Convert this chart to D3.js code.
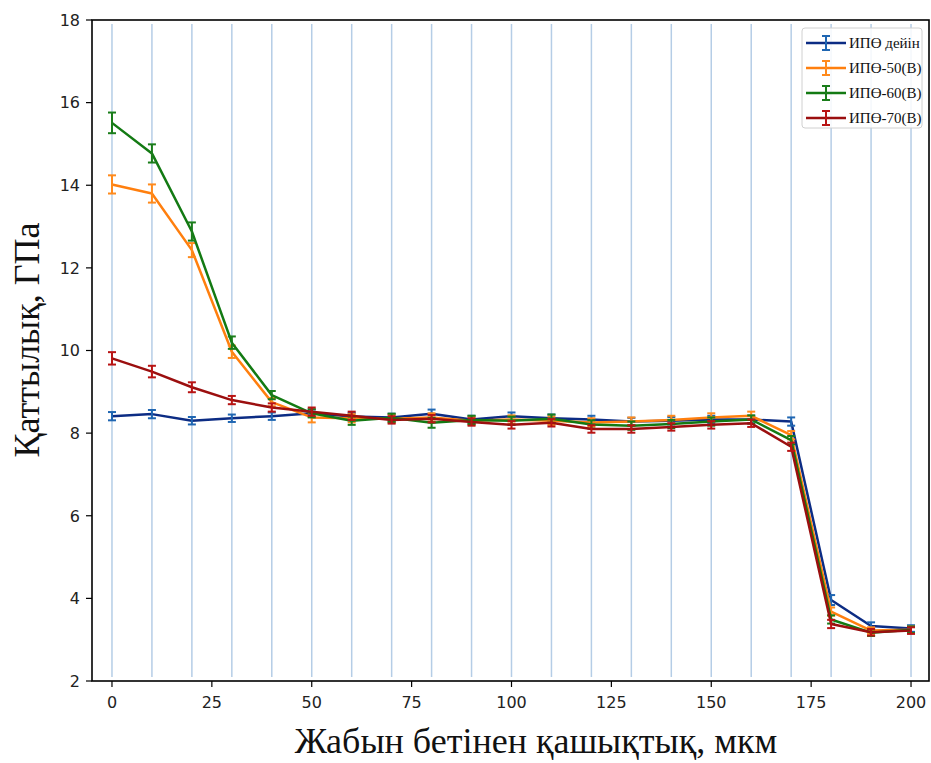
<!DOCTYPE html>
<html>
<head>
<meta charset="utf-8">
<script src="https://cdn.jsdelivr.net/npm/d3@7"></script>
<style>
  body { margin: 0; background: #fff; }
  .tick-label { font-family: "DejaVu Sans", sans-serif; font-size: 16px; fill: #222; }
  .axis-title { font-family: "Liberation Serif", "DejaVu Serif", serif; font-size: 36px; fill: #111; }
  .legend-label { font-family: "Liberation Serif", serif; font-size: 15px; fill: #111; }
</style>
</head>
<body>
<div id="chart"></div>
<script>
// distance from coating surface, mkm
const depths = [0, 10, 20, 30, 40, 50, 60, 70, 80, 90, 100, 110, 120, 130, 140, 150, 160, 170, 180, 190, 200];

const seriesNames = ['ИПӨ дейін', 'ИПӨ-50(В)', 'ИПӨ-60(В)', 'ИПӨ-70(В)'];

const hardBefore = [8.41, 8.46, 8.30, 8.36, 8.41, 8.48, 8.40, 8.38, 8.47, 8.33, 8.41, 8.36, 8.33, 8.28, 8.30, 8.33, 8.33, 8.28, 3.96, 3.33, 3.27];
const hard50 = [14.02, 13.80, 12.43, 9.97, 8.75, 8.38, 8.36, 8.35, 8.38, 8.30, 8.33, 8.30, 8.26, 8.28, 8.32, 8.38, 8.42, 7.95, 3.68, 3.22, 3.24];
const hard60 = [15.51, 14.77, 12.88, 10.19, 8.92, 8.48, 8.30, 8.37, 8.25, 8.32, 8.30, 8.35, 8.21, 8.18, 8.22, 8.28, 8.33, 7.83, 3.49, 3.17, 3.24];
const hard70 = [9.81, 9.49, 9.11, 8.80, 8.62, 8.52, 8.42, 8.32, 8.35, 8.27, 8.20, 8.25, 8.10, 8.10, 8.15, 8.20, 8.24, 7.67, 3.38, 3.18, 3.22];

const errBefore = [0.10, 0.10, 0.09, 0.09, 0.09, 0.09, 0.09, 0.09, 0.10, 0.09, 0.09, 0.09, 0.09, 0.09, 0.09, 0.09, 0.09, 0.10, 0.12, 0.09, 0.08];
const err50 = [0.22, 0.22, 0.17, 0.15, 0.10, 0.12, 0.10, 0.10, 0.10, 0.10, 0.10, 0.10, 0.10, 0.10, 0.10, 0.10, 0.10, 0.10, 0.10, 0.08, 0.08];
const err60 = [0.25, 0.22, 0.22, 0.15, 0.10, 0.10, 0.10, 0.10, 0.12, 0.10, 0.10, 0.10, 0.10, 0.10, 0.10, 0.10, 0.10, 0.10, 0.10, 0.08, 0.08];
const err70 = [0.15, 0.14, 0.12, 0.10, 0.10, 0.10, 0.10, 0.09, 0.09, 0.09, 0.09, 0.09, 0.09, 0.09, 0.09, 0.09, 0.09, 0.10, 0.10, 0.08, 0.08];

const xTicks = [0, 25, 50, 75, 100, 125, 150, 175, 200];
const yTicks = [2, 4, 6, 8, 10, 12, 14, 16, 18];

const lineColors = ['#0c2c84', '#ff7f0e', '#137a13', '#9b0f0f'];
const barColors = ['#1f66b2', '#ff8a1c', '#1a7d1a', '#b81414'];

const width = 931, height = 763;
const svg = d3.select('#chart').append('svg')
    .attr('width', width)
    .attr('height', height);

const x = d3.scaleLinear().domain([-5, 204.5]).range([92, 929]);
const y = d3.scaleLinear().domain([2, 18]).range([681, 20]);

// vertical guide lines at each measurement depth
svg.append('g').selectAll('line')
    .data(depths)
  .join('line')
    .attr('x1', d => x(d)).attr('x2', d => x(d))
    .attr('y1', 24).attr('y2', 677)
    .attr('stroke', '#b5cde6')
    .attr('stroke-width', 1.5);

// series
const series = [
  {name: seriesNames[0], vals: hardBefore, err: errBefore},
  {name: seriesNames[1], vals: hard50, err: err50},
  {name: seriesNames[2], vals: hard60, err: err60},
  {name: seriesNames[3], vals: hard70, err: err70}
];

const line = d3.line()
    .x((d, i) => x(depths[i]))
    .y(d => y(d));

const capW = 4;
series.forEach((s, si) => {
  const g = svg.append('g');
  g.append('path')
      .datum(s.vals)
      .attr('d', line)
      .attr('fill', 'none')
      .attr('stroke', lineColors[si])
      .attr('stroke-width', 2.5)
      .attr('stroke-linejoin', 'round');

  const bars = g.selectAll('.eb')
      .data(s.vals.map((v, i) => ({x: depths[i], v: v, e: s.err[i]})))
    .join('g')
      .attr('stroke', barColors[si])
      .attr('stroke-width', 2);
  bars.append('line')
      .attr('x1', d => x(d.x)).attr('x2', d => x(d.x))
      .attr('y1', d => y(d.v - d.e)).attr('y2', d => y(d.v + d.e));
  bars.append('line')
      .attr('x1', d => x(d.x) - capW).attr('x2', d => x(d.x) + capW)
      .attr('y1', d => y(d.v + d.e)).attr('y2', d => y(d.v + d.e));
  bars.append('line')
      .attr('x1', d => x(d.x) - capW).attr('x2', d => x(d.x) + capW)
      .attr('y1', d => y(d.v - d.e)).attr('y2', d => y(d.v - d.e));
});

// frame
svg.append('rect')
    .attr('x', 92).attr('y', 20)
    .attr('width', 929 - 92).attr('height', 681 - 20)
    .attr('fill', 'none')
    .attr('stroke', '#000')
    .attr('stroke-width', 1.6);

// y ticks
const yAxis = svg.append('g');
yAxis.selectAll('line')
    .data(yTicks)
  .join('line')
    .attr('x1', 86).attr('x2', 92)
    .attr('y1', d => y(d)).attr('y2', d => y(d))
    .attr('stroke', '#000').attr('stroke-width', 1.2);
yAxis.selectAll('text')
    .data(yTicks)
  .join('text')
    .attr('class', 'tick-label')
    .attr('x', 80)
    .attr('y', d => y(d))
    .attr('dy', '0.36em')
    .attr('text-anchor', 'end')
    .text(d => d);

// x ticks
const xAxis = svg.append('g');
xAxis.selectAll('line')
    .data(xTicks)
  .join('line')
    .attr('x1', d => x(d)).attr('x2', d => x(d))
    .attr('y1', 681).attr('y2', 687)
    .attr('stroke', '#000').attr('stroke-width', 1.2);
xAxis.selectAll('text')
    .data(xTicks)
  .join('text')
    .attr('class', 'tick-label')
    .attr('x', d => x(d))
    .attr('y', 708)
    .attr('text-anchor', 'middle')
    .text(d => d);

// axis titles
svg.append('text')
    .attr('class', 'axis-title')
    .attr('transform', 'translate(39,340) rotate(-90)')
    .attr('text-anchor', 'middle')
    .text('Қаттылық, ГПа');

svg.append('text')
    .attr('class', 'axis-title')
    .attr('x', 536)
    .attr('y', 753)
    .attr('text-anchor', 'middle')
    .text('Жабын бетінен қашықтық, мкм');

// legend
const legend = svg.append('g').attr('transform', 'translate(802,28)');
legend.append('rect')
    .attr('width', 120).attr('height', 100)
    .attr('rx', 3)
    .attr('fill', '#fff').attr('fill-opacity', 0.85)
    .attr('stroke', '#d0d0d0');
const items = legend.selectAll('.item')
    .data(series)
  .join('g')
    .attr('transform', (d, i) => `translate(0,${15 + i * 25})`);
items.append('line')
    .attr('x1', 4).attr('x2', 44)
    .attr('stroke', (d, i) => lineColors[i])
    .attr('stroke-width', 2.5);
items.append('line')
    .attr('x1', 24).attr('x2', 24).attr('y1', -7).attr('y2', 7)
    .attr('stroke', (d, i) => barColors[i]).attr('stroke-width', 2);
items.append('line')
    .attr('x1', 20).attr('x2', 28).attr('y1', -7).attr('y2', -7)
    .attr('stroke', (d, i) => barColors[i]).attr('stroke-width', 2);
items.append('line')
    .attr('x1', 20).attr('x2', 28).attr('y1', 7).attr('y2', 7)
    .attr('stroke', (d, i) => barColors[i]).attr('stroke-width', 2);
items.append('text')
    .attr('class', 'legend-label')
    .attr('x', 47)
    .attr('dy', '0.35em')
    .text(d => d.name);
</script>
</body>
</html>
